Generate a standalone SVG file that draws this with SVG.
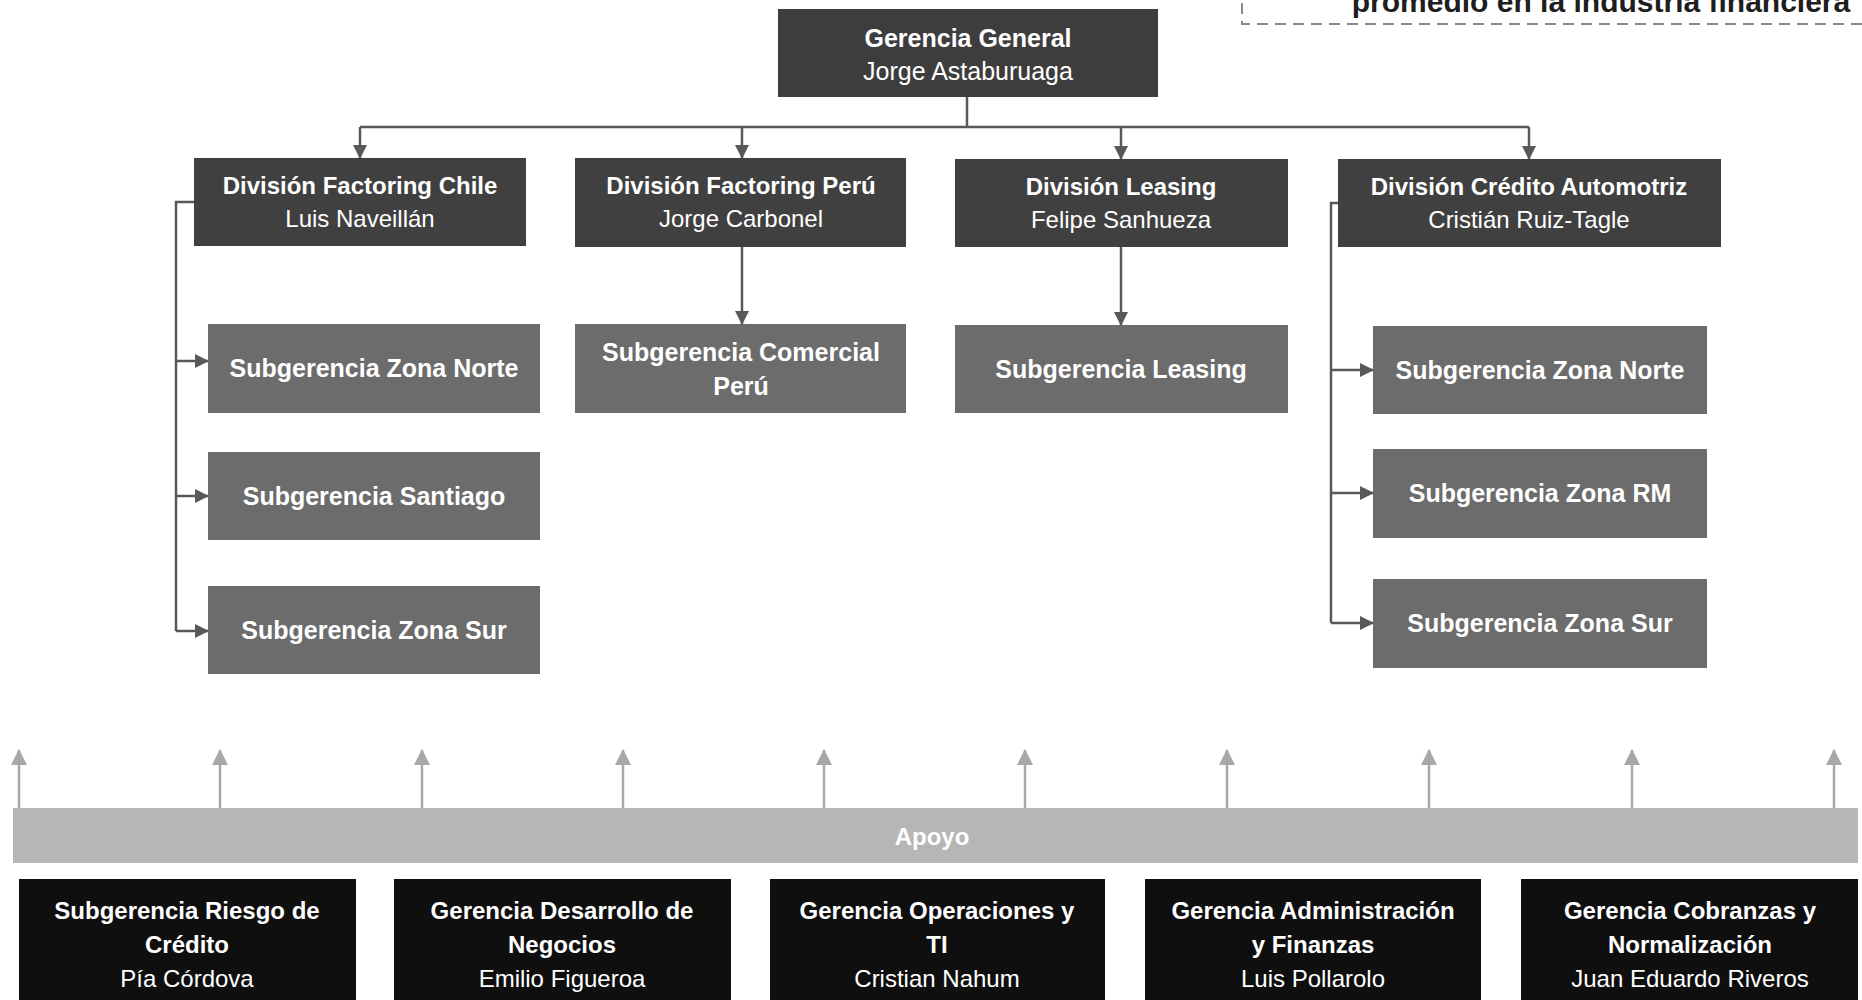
<svg xmlns="http://www.w3.org/2000/svg" width="1862" height="1000" viewBox="0 0 1862 1000">
  <style>
    text { font-family: "Liberation Sans", Arial, sans-serif; text-anchor: middle; fill: #ffffff; }
    .b { font-weight: bold; }
    .top { fill: #3d3d3d; }
    .div { fill: #404040; }
    .sub { fill: #6c6c6c; }
    .sup { fill: #0f0f0f; }
    .bar { fill: #b6b6b6; }
    .con { fill: none; stroke: #585858; stroke-width: 2.5; }
    .up { fill: none; stroke: #a8a8a8; stroke-width: 2.5; }
    .f24 { font-size: 24px; }
    .f25 { font-size: 25px; }
  </style>
  <defs>
    <marker id="ah" markerUnits="userSpaceOnUse" markerWidth="14" markerHeight="14" refX="13" refY="7" orient="auto">
      <path d="M0,0 L14,7 L0,14 z" fill="#585858"/>
    </marker>
    <marker id="ahl" markerUnits="userSpaceOnUse" markerWidth="16" markerHeight="16" refX="15" refY="8" orient="auto">
      <path d="M0,0 L16,8 L0,16 z" fill="#a8a8a8"/>
    </marker>
  </defs>
  <rect width="1862" height="1000" fill="#ffffff"/>

  <g id="note">
    <rect x="1242" y="-60" width="700" height="84" fill="none" stroke="#8a8a8a" stroke-width="2" stroke-dasharray="11,7"/>
    <text x="1601" y="12" class="b" style="font-size:30px; fill:#1e1e1e;">promedio en la industria financiera</text>
  </g>

  <g id="connectors">
    <path class="con" d="M967,97 V127 M360,127 H1529"/>
    <path class="con" d="M360,127 V158" marker-end="url(#ah)"/>
    <path class="con" d="M742,127 V158" marker-end="url(#ah)"/>
    <path class="con" d="M1121,127 V159" marker-end="url(#ah)"/>
    <path class="con" d="M1529,127 V159" marker-end="url(#ah)"/>
    <path class="con" d="M194,202 H176 V631"/>
    <path class="con" d="M176,361 H208" marker-end="url(#ah)"/>
    <path class="con" d="M176,496 H208" marker-end="url(#ah)"/>
    <path class="con" d="M176,631 H208" marker-end="url(#ah)"/>
    <path class="con" d="M742,247 V324" marker-end="url(#ah)"/>
    <path class="con" d="M1121,247 V325" marker-end="url(#ah)"/>
    <path class="con" d="M1338,203 H1331 V623"/>
    <path class="con" d="M1331,370 H1373" marker-end="url(#ah)"/>
    <path class="con" d="M1331,493 H1373" marker-end="url(#ah)"/>
    <path class="con" d="M1331,623 H1373" marker-end="url(#ah)"/>
    <path class="up" d="M19,808 V750" marker-end="url(#ahl)"/>
    <path class="up" d="M220,808 V750" marker-end="url(#ahl)"/>
    <path class="up" d="M422,808 V750" marker-end="url(#ahl)"/>
    <path class="up" d="M623,808 V750" marker-end="url(#ahl)"/>
    <path class="up" d="M824,808 V750" marker-end="url(#ahl)"/>
    <path class="up" d="M1025,808 V750" marker-end="url(#ahl)"/>
    <path class="up" d="M1227,808 V750" marker-end="url(#ahl)"/>
    <path class="up" d="M1429,808 V750" marker-end="url(#ahl)"/>
    <path class="up" d="M1632,808 V750" marker-end="url(#ahl)"/>
    <path class="up" d="M1834,808 V750" marker-end="url(#ahl)"/>
  </g>

  <g id="gerencia-general">
    <rect class="top" x="778" y="9" width="380" height="88"/>
    <text x="968" y="47" class="b f25">Gerencia General</text>
    <text x="968" y="80" class="f25">Jorge Astaburuaga</text>
  </g>

  <g id="div-factoring-chile">
    <rect class="div" x="194" y="158" width="332" height="88"/>
    <text x="360" y="194" class="b f24">División Factoring Chile</text>
    <text x="360" y="227" class="f24">Luis Naveillán</text>
  </g>
  <g id="div-factoring-peru">
    <rect class="div" x="575" y="158" width="331" height="89"/>
    <text x="741" y="194" class="b f24">División Factoring Perú</text>
    <text x="741" y="227" class="f24">Jorge Carbonel</text>
  </g>
  <g id="div-leasing">
    <rect class="div" x="955" y="159" width="333" height="88"/>
    <text x="1121" y="195" class="b f24">División Leasing</text>
    <text x="1121" y="228" class="f24">Felipe Sanhueza</text>
  </g>
  <g id="div-credito-automotriz">
    <rect class="div" x="1338" y="159" width="383" height="88"/>
    <text x="1529" y="195" class="b f24">División Crédito Automotriz</text>
    <text x="1529" y="228" class="f24">Cristián Ruiz-Tagle</text>
  </g>

  <g id="sub-chile-norte">
    <rect class="sub" x="208" y="324" width="332" height="89"/>
    <text x="374" y="377" class="b f25">Subgerencia Zona Norte</text>
  </g>
  <g id="sub-chile-santiago">
    <rect class="sub" x="208" y="452" width="332" height="88"/>
    <text x="374" y="505" class="b f25">Subgerencia Santiago</text>
  </g>
  <g id="sub-chile-sur">
    <rect class="sub" x="208" y="586" width="332" height="88"/>
    <text x="374" y="639" class="b f25">Subgerencia Zona Sur</text>
  </g>

  <g id="sub-comercial-peru">
    <rect class="sub" x="575" y="324" width="331" height="89"/>
    <text x="741" y="361" class="b f25">Subgerencia Comercial</text>
    <text x="741" y="395" class="b f25">Perú</text>
  </g>
  <g id="sub-leasing">
    <rect class="sub" x="955" y="325" width="333" height="88"/>
    <text x="1121" y="378" class="b f25">Subgerencia Leasing</text>
  </g>

  <g id="sub-auto-norte">
    <rect class="sub" x="1373" y="326" width="334" height="88"/>
    <text x="1540" y="379" class="b f25">Subgerencia Zona Norte</text>
  </g>
  <g id="sub-auto-rm">
    <rect class="sub" x="1373" y="449" width="334" height="89"/>
    <text x="1540" y="502" class="b f25">Subgerencia Zona RM</text>
  </g>
  <g id="sub-auto-sur">
    <rect class="sub" x="1373" y="579" width="334" height="89"/>
    <text x="1540" y="632" class="b f25">Subgerencia Zona Sur</text>
  </g>

  <g id="apoyo">
    <rect class="bar" x="13" y="808" width="1845" height="55"/>
    <text x="932" y="845" class="b f24">Apoyo</text>
  </g>

  <g id="riesgo-credito">
    <rect class="sup" x="19" y="879" width="337" height="130"/>
    <text x="187" y="919" class="b f24">Subgerencia Riesgo de</text>
    <text x="187" y="953" class="b f24">Crédito</text>
    <text x="187" y="987" class="f24">Pía Córdova</text>
  </g>
  <g id="desarrollo-negocios">
    <rect class="sup" x="394" y="879" width="337" height="130"/>
    <text x="562" y="919" class="b f24">Gerencia Desarrollo de</text>
    <text x="562" y="953" class="b f24">Negocios</text>
    <text x="562" y="987" class="f24">Emilio Figueroa</text>
  </g>
  <g id="operaciones-ti">
    <rect class="sup" x="770" y="879" width="335" height="130"/>
    <text x="937" y="919" class="b f24">Gerencia Operaciones y</text>
    <text x="937" y="953" class="b f24">TI</text>
    <text x="937" y="987" class="f24">Cristian Nahum</text>
  </g>
  <g id="administracion-finanzas">
    <rect class="sup" x="1145" y="879" width="336" height="130"/>
    <text x="1313" y="919" class="b f24">Gerencia Administración</text>
    <text x="1313" y="953" class="b f24">y Finanzas</text>
    <text x="1313" y="987" class="f24">Luis Pollarolo</text>
  </g>
  <g id="cobranzas-normalizacion">
    <rect class="sup" x="1521" y="879" width="337" height="130"/>
    <text x="1690" y="919" class="b f24">Gerencia Cobranzas y</text>
    <text x="1690" y="953" class="b f24">Normalización</text>
    <text x="1690" y="987" class="f24">Juan Eduardo Riveros</text>
  </g>
</svg>
